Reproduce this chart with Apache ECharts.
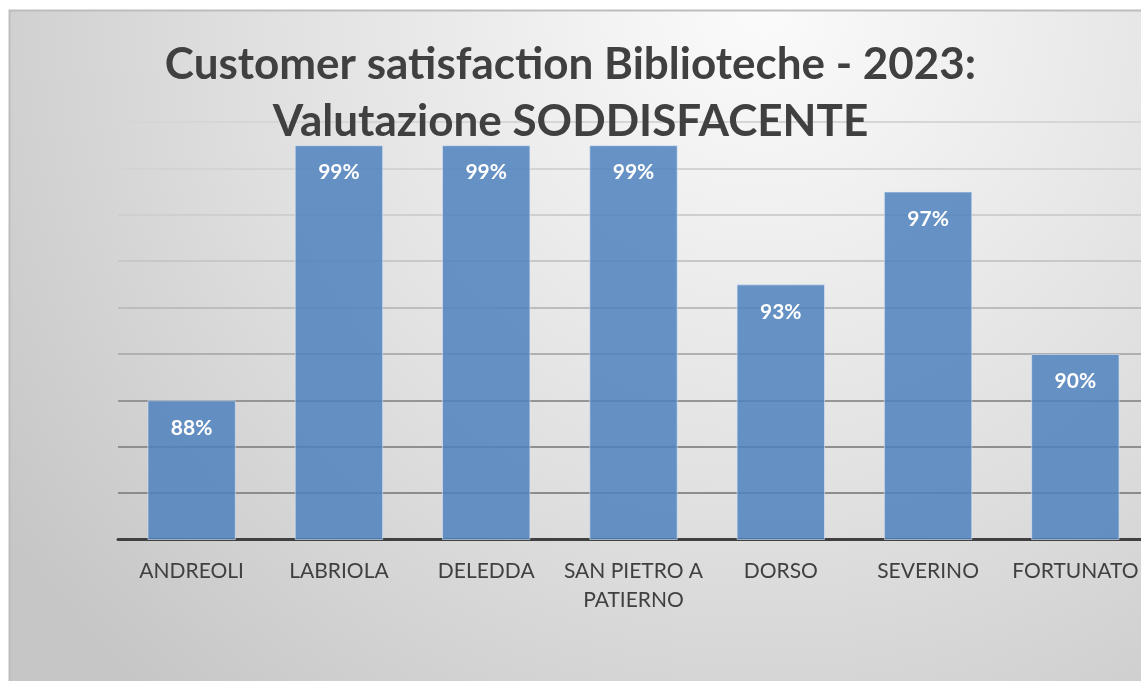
<!DOCTYPE html>
<html>
<head>
<meta charset="utf-8">
<script src="https://cdn.jsdelivr.net/npm/echarts@6/dist/echarts.min.js"></script>
<style>
  html, body { margin: 0; padding: 0; background: #fff; }
  #chart { width: 1141px; height: 681px; }
</style>
</head>
<body>
<div id="chart"></div>
<script>
// data
const categories = ['ANDREOLI', 'LABRIOLA', 'DELEDDA', 'SAN PIETRO A\nPATIERNO', 'DORSO', 'SEVERINO', 'FORTUNATO'];
const satisfied = [88, 99, 99, 99, 93, 97, 90];
const titleLines = ['Customer satisfaction Biblioteche - 2023:', 'Valutazione SODDISFACENTE'];
// gridlines get darker toward the bottom (82 -> 100)
const gridColors = ['#404040', '#8c8c8c', '#8f8f8f', '#959595', '#b0b0b0', '#bdbdbd', '#c8c8c8', '#cfcfcf', '#d3d3d3', '#d6d6d6'];

const chart = echarts.init(document.getElementById('chart'), null, { renderer: 'canvas' });

const option = {
  animation: false,
  graphic: [{
    type: 'rect',
    z: -10,
    silent: true,
    shape: { x: 9.5, y: 10.5, width: 1140, height: 680 },
    style: {
      fill: {
        type: 'radial', x: 0.66, y: 0.0, r: 1.35,
        colorStops: [
          { offset: 0, color: '#fbfbfb' },
          { offset: 0.55, color: '#e0e0e0' },
          { offset: 1, color: '#c6c6c6' }
        ]
      },
      stroke: '#bdbdbd',
      lineWidth: 2
    }
  }],
  title: {
    text: titleLines.join('\n'),
    left: 'center',
    top: 31,
    textStyle: {
      fontFamily: 'Lato',
      fontWeight: 'bold',
      fontSize: 44,
      lineHeight: 57,
      color: '#404040'
    }
  },
  grid: {
    left: 118,
    top: 122,
    bottom: 141.5,
    width: 1031,
    outerBoundsMode: 'none'
  },
  xAxis: {
    type: 'category',
    data: categories,
    axisTick: { show: false },
    axisLine: { lineStyle: { color: '#404040', width: 3 } },
    axisLabel: {
      interval: 0,
      margin: 17,
      color: '#404040',
      fontFamily: 'Lato',
      fontSize: 21,
      lineHeight: 29
    }
  },
  yAxis: {
    type: 'value',
    min: 82,
    max: 100,
    interval: 2,
    axisLabel: { show: false },
    axisLine: { show: false },
    axisTick: { show: false },
    splitLine: { lineStyle: { color: gridColors, width: 2 } }
  },
  series: [{
    type: 'bar',
    data: satisfied,
    barCategoryGap: '40%',
    itemStyle: {
      color: 'rgba(79,129,189,0.85)',
      borderColor: 'rgba(220,232,245,0.6)',
      borderWidth: 1
    },
    label: {
      show: true,
      position: 'insideTop',
      distance: 17,
      formatter: '{c}%',
      color: '#ffffff',
      fontFamily: 'Lato',
      fontWeight: 'bold',
      fontSize: 21
    }
  }]
};

chart.setOption(option);
</script>
</body>
</html>
